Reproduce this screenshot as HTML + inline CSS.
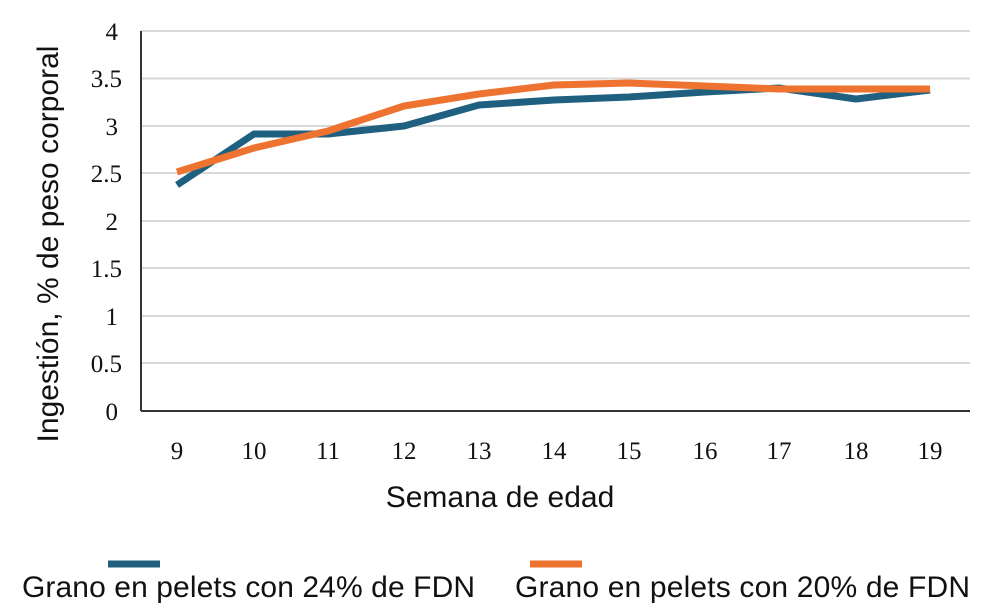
<!DOCTYPE html>
<html><head><meta charset="utf-8"><style>
body{margin:0;background:#fff;}
svg text{font-family:"Liberation Serif",serif;font-size:25px;fill:#111;}
.s{font-family:"Liberation Sans",sans-serif;font-size:30px;}
</style></head><body>
<svg width="1000" height="607" viewBox="0 0 1000 607">
<g stroke="#d9d9d9" stroke-width="2">
<line x1="141" x2="970" y1="31" y2="31"/><line x1="141" x2="970" y1="78.5" y2="78.5"/>
<line x1="141" x2="970" y1="126" y2="126"/><line x1="141" x2="970" y1="173" y2="173"/>
<line x1="141" x2="970" y1="221" y2="221"/><line x1="141" x2="970" y1="268" y2="268"/>
<line x1="141" x2="970" y1="316" y2="316"/><line x1="141" x2="970" y1="363" y2="363"/>
</g>
<line x1="141" x2="970" y1="411" y2="411" stroke="#333" stroke-width="2"/>
<line x1="141" x2="141" y1="31" y2="411" stroke="#333" stroke-width="2"/>
<g text-anchor="end">
<text x="118" y="40">4</text><text x="122" y="87">3.5</text><text x="118" y="135">3</text><text x="122" y="182">2.5</text>
<text x="118" y="230">2</text><text x="122" y="277">1.5</text><text x="118" y="325">1</text><text x="122" y="372">0.5</text><text x="118" y="420">0</text>
</g>
<g text-anchor="middle">
<text x="177" y="459">9</text><text x="254" y="459">10</text><text x="328" y="459">11</text><text x="404" y="459">12</text>
<text x="479" y="459">13</text><text x="554" y="459">14</text><text x="629" y="459">15</text><text x="705" y="459">16</text>
<text x="779" y="459">17</text><text x="856" y="459">18</text><text x="930" y="459">19</text>
</g>
<polyline fill="none" stroke="#1f5f7f" stroke-width="7" stroke-linejoin="round" points="177,185 254,134 328,134 404,126 479,105 554,100 629,97 705,92 779,88 856,99 930,90"/>
<polyline fill="none" stroke="#ee7330" stroke-width="7" stroke-linejoin="round" points="177,172 254,148 328,131 404,106 479,94 554,85 629,83 705,86 779,89 856,89 930,89"/>
<text class="s" x="500" y="507" text-anchor="middle">Semana de edad</text>
<text class="s" transform="translate(58,244) rotate(-90)" text-anchor="middle">Ingestión, % de peso corporal</text>
<line x1="108" x2="160" y1="564" y2="564" stroke="#1f5f7f" stroke-width="7"/>
<line x1="530" x2="582" y1="564" y2="564" stroke="#ee7330" stroke-width="7"/>
<text class="s" x="22" y="597" textLength="453">Grano en pelets con 24% de FDN</text>
<text class="s" x="515" y="597" textLength="455">Grano en pelets con 20% de FDN</text>
</svg>
</body></html>
